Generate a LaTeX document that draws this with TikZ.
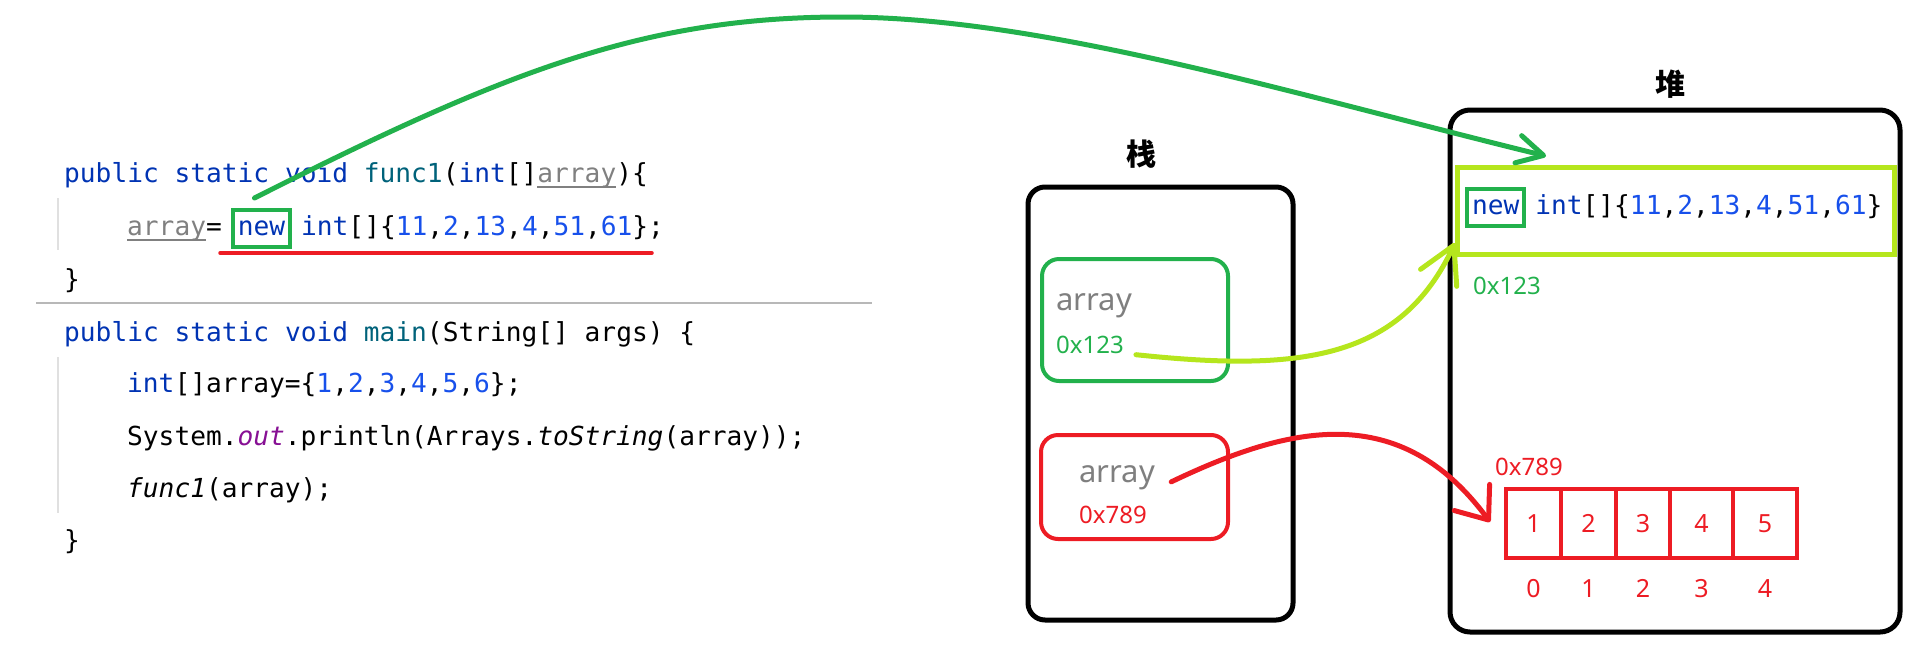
\documentclass[tikz,border=0pt]{standalone}
\usepackage{fontspec}
\usepackage{tikz}
\usetikzlibrary{
  arrows.meta,
  positioning,
}
\newfontfamily\codefont{DejaVu Sans Mono}
\newfontfamily\paintfont{Noto Sans}
\newfontfamily\cjkfont{Noto Sans CJK SC}
\definecolor{paintgreen}{RGB}{34, 177, 76}
\definecolor{paintred}{RGB}{237, 28, 36}
\definecolor{paintlime}{RGB}{181, 230, 29}
\definecolor{paintgray}{RGB}{127, 127, 127}
\definecolor{idekeyword}{RGB}{0, 51, 179}
\definecolor{idemethod}{RGB}{0, 98, 122}
\definecolor{idenumber}{RGB}{23, 80, 235}
\definecolor{ideparam}{RGB}{128, 128, 128}
\definecolor{idestatic}{RGB}{135, 16, 148}
\newcommand\reassigned[1]{\setbox0\hbox{#1}\rlap{\rule[-5.5pt]{\wd0}{1.5pt}}\box0}
\newcommand\num[1]{\textcolor{idenumber}{#1}}
\tikzstyle{pointer} = [
  line width=5pt,
  line cap=round,
  line join=round,
]
\tikzstyle{codeline} = [anchor=base west, inner sep=0pt, font=\codefont\fontsize{26.2}{30}\selectfont]
\tikzstyle{newbox} = [draw=paintgreen, line width=4pt, inner xsep=5pt, inner ysep=6pt, outer sep=0pt, text height=19pt, text depth=6pt, font=\codefont\fontsize{26.2}{30}\selectfont]
\tikzstyle{memory} = [draw, line width=5pt, rounded corners=17pt, outer sep=0pt]
\tikzstyle{slot} = [line width=4pt, rounded corners=17pt, outer sep=0pt]
\tikzstyle{varname} = [anchor=base west, inner sep=0pt, text=paintgray, font=\paintfont\fontsize{31}{36}\selectfont]
\tikzstyle{addr} = [anchor=base west, inner sep=0pt, font=\paintfont\fontsize{24}{28}\selectfont]
\tikzstyle{cell} = [draw=paintred, line width=4pt, minimum height=69pt, outer sep=0pt, inner sep=0pt, text=paintred, font=\paintfont\fontsize{25}{30}\selectfont]
\tikzstyle{idx} = [inner sep=0pt, text=paintred, font=\paintfont\fontsize{25}{30}\selectfont]
\tikzstyle{area} = [inner sep=0pt, font=\cjkfont\bfseries\fontsize{30}{34}\selectfont]

\begin{document}
\begin{tikzpicture}[x=1pt,y=-1pt]
			\useasboundingbox (0,0) rectangle (1926,670);

			\draw[line width=2pt,color=black!12] (58,198) -- (58,250);
			\draw[line width=2pt,color=black!12] (58,357) -- (58,513);
			\draw[line width=2.5pt,color=black!28] (36,303) -- (872,303);

			\node[codeline] (fline1) at (64,182) {\textcolor{idekeyword}{public static void }\textcolor{idemethod}{func1}(\textcolor{idekeyword}{int}[]\textcolor{ideparam}{\reassigned{array}})\{};
			\node[codeline] (fline2) at (127,235) {\textcolor{ideparam}{\reassigned{array}}=};
			\node[newbox] (codenew) [base right=10.8pt of fline2] {\textcolor{idekeyword}{new}};
			\node[codeline] (fline2b) [base right=10.8pt of codenew] {\textcolor{idekeyword}{int}[]\{\num{11},\num{2},\num{13},\num{4},\num{51},\num{61}\};};
			\node[codeline] (fline3) at (64,288) {\}};
			\draw[line width=3.5pt,line cap=round,color=paintred] (220,253) -- (652,253);

			\node[codeline] (mline1) at (64,341) {\textcolor{idekeyword}{public static void }\textcolor{idemethod}{main}(String[] args) \{};
			\node[codeline] (mline2) at (127,392) {\textcolor{idekeyword}{int}[]array=\{\num{1},\num{2},\num{3},\num{4},\num{5},\num{6}\};};
			\node[codeline] (mline3) at (127,445) {System.\textcolor{idestatic}{\itshape out}.println(Arrays.{\itshape toString}(array));};
			\node[codeline] (mline4) at (127,497) {{\itshape func1}(array);};
			\node[codeline] (mline5) at (64,549) {\}};

			\node[area] (stacklbl) at (1141,154) {栈};
			\node[memory, minimum width=265pt, minimum height=433pt] (stack) at (1160.5,403.5) {};
			\node[slot, draw=paintgreen, minimum width=186pt, minimum height=122pt] (sa1) at (1135,320) {};
			\node[varname] (sa1name) at (1056,310) {array};
			\node[addr, text=paintgreen] (sa1addr) at (1056,353) {0x123};
			\node[slot, draw=paintred, minimum width=187pt, minimum height=104pt] (sa2) at (1134.5,487) {};
			\node[varname] (sa2name) at (1079,482) {array};
			\node[addr, text=paintred] (sa2addr) at (1079,523) {0x789};

			\node[area] (heaplbl) at (1670,84) {堆};
			\node[memory, rounded corners=20pt, minimum width=450pt, minimum height=522pt] (heap) at (1675,371) {};
			\node[draw=paintlime, line width=5pt, minimum width=437pt, minimum height=87pt, outer sep=0pt] (heapobj) at (1675.5,210.5) {};
			\node[newbox, anchor=base west] (heapnew) at (1467,214) {\textcolor{idekeyword}{new}};
			\node[codeline] (heapcode) [base right=10.8pt of heapnew] {\textcolor{idekeyword}{int}[]\{\num{11},\num{2},\num{13},\num{4},\num{51},\num{61}\}};
			\node[addr, text=paintgreen] (h1addr) at (1473,294) {0x123};
			\node[addr, text=paintred] (h2addr) at (1495,475) {0x789};

			\node[cell, minimum width=55pt] (c1) at (1533.5,523.5) {1};
			\node[cell, minimum width=55pt] (c2) [right=0pt of c1] {2};
			\node[cell, minimum width=54pt] (c3) [right=0pt of c2] {3};
			\node[cell, minimum width=63pt] (c4) [right=0pt of c3] {4};
			\node[cell, minimum width=64pt] (c5) [right=0pt of c4] {5};
			\node[idx] (i0) [below=21pt of c1] {0};
			\node[idx] (i1) [below=21pt of c2] {1};
			\node[idx] (i2) [below=21pt of c3] {2};
			\node[idx] (i3) [below=21pt of c4] {3};
			\node[idx] (i4) [below=21pt of c5] {4};

			\coordinate (newtip) at (1546,156);
			\coordinate (limetip) at (1455,243);
			\coordinate (celltip) at (1490,522);

			\draw[pointer,color=paintgreen,-{Straight Barb[length=26pt,width=28pt,round]}] ([xshift=-7pt,yshift=12pt]codenew.north) .. controls (504,72) and (643,17) .. (843,17) .. controls (1043,17) and (1296,95) .. (newtip);
			\draw[pointer,color=paintlime,-{Straight Barb[length=36pt,width=40pt,round]},shorten <=12pt] (sa1addr.south east) .. controls (1300,372) and (1400,360) .. (limetip);
			\draw[pointer,color=paintred,-{Straight Barb[length=28pt,width=44pt,round]},shorten <=18pt] (sa2name.south east) .. controls (1290,425) and (1400,400) .. (celltip);
		\end{tikzpicture}
\end{document}
